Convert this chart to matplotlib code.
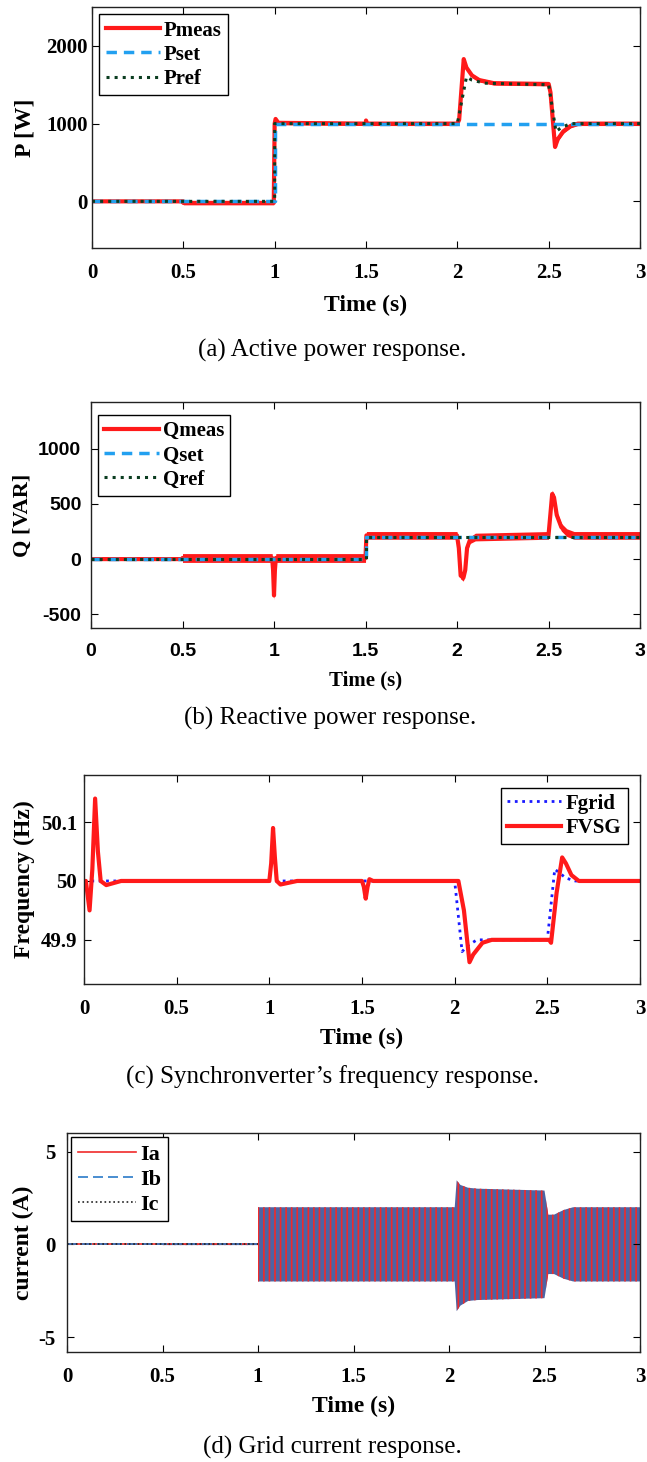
import numpy as np
import matplotlib.pyplot as plt

plt.rcParams['font.family'] = ['Liberation Serif', 'DejaVu Serif']
plt.rcParams['font.weight'] = 'bold'
plt.rcParams['axes.unicode_minus'] = False
plt.rcParams['hatch.linewidth'] = 1.2

W, H = 647, 1462

# (a) active power
t_pmeas = [0, 0.5, 0.5, 0.995, 1.0, 1.005, 1.02, 1.5, 1.5, 1.505, 2.0, 2.01, 2.035,
           2.05, 2.08, 2.12, 2.2, 2.5, 2.51, 2.535, 2.55, 2.58, 2.62, 2.66, 3.0]
pmeas = [0, 0, -20, -20, 1000, 1060, 1010, 1000, 1040, 1000, 1000, 1050, 1830,
         1720, 1620, 1560, 1520, 1510, 1400, 700, 800, 900, 970, 1000, 1000]
pmeas_ripple = [0, 0, 25, 25, 25, 25, 25, 25, 25, 25, 25, 25, 25,
                25, 25, 25, 25, 25, 25, 25, 25, 25, 25, 25, 25]
t_pset = [0, 1.0, 1.0, 3.0]
pset = [0, 0, 1000, 1000]
t_pref = [0, 1.0, 1.0, 2.0, 2.05, 2.08, 2.15, 2.5, 2.54, 2.57, 2.62, 3.0]
pref = [0, 0, 1000, 1000, 1600, 1560, 1520, 1500, 900, 950, 1000, 1000]

# (b) reactive power
t_qmeas = [0, 0.5, 0.5, 0.99, 0.995, 1.0, 1.005, 1.01, 1.5, 1.505, 2.0, 2.01, 2.02,
           2.035, 2.045, 2.055, 2.07, 2.1, 2.5, 2.51, 2.52, 2.53, 2.545, 2.57, 2.6, 2.64, 3.0]
qmeas = [0, 0, 10, 10, -100, -330, -100, 10, 10, 215, 215, 100, -150,
         -170, -100, 100, 170, 200, 215, 400, 590, 560, 400, 290, 240, 215, 215]
qmeas_ripple = [0, 0, 40, 40, 40, 40, 40, 40, 40, 35, 35, 30, 30,
                30, 30, 30, 30, 35, 35, 35, 35, 35, 35, 35, 35, 35, 35]
t_qset = [0, 1.5, 1.5, 3.0]
qset = [0, 0, 200, 200]
t_qref = [0, 1.5, 1.5, 3.0]
qref = [0, 0, 200, 200]

# (c) frequency
t_fvsg = [0, 0.01, 0.03, 0.045, 0.06, 0.075, 0.09, 0.12, 0.2, 1.0, 1.01, 1.02, 1.03,
          1.04, 1.06, 1.15, 1.5, 1.51, 1.52, 1.53, 1.54, 1.56, 2.02, 2.05, 2.08,
          2.1, 2.15, 2.2, 2.51, 2.52, 2.55, 2.58, 2.6, 2.63, 2.67, 3.0]
fvsg = [50, 50.0, 49.95, 50.02, 50.14, 50.05, 50.0, 49.993, 50.0, 50.0, 50.03, 50.09, 50.04,
        50.0, 49.994, 50.0, 50.0, 49.99, 49.97, 49.99, 50.003, 50.0, 50.0, 49.95, 49.862,
        49.875, 49.895, 49.9, 49.9, 49.895, 49.98, 50.04, 50.03, 50.01, 50.0, 50.0]
t_fgrid = [0, 2.0, 2.04, 2.07, 2.12, 2.5, 2.54, 2.6, 2.65, 3.0]
fgrid = [50, 50, 49.88, 49.89, 49.9, 49.9, 50.02, 50.005, 50, 50]

# (d) grid current envelope
t_ienv = [0, 0.5, 0.5, 1.0, 1.0, 2.03, 2.04, 2.06, 2.1, 2.15, 2.5, 2.52, 2.55, 2.6, 2.65, 3.0]
i_upper = [0, 0, 0.04, 0.04, 2.0, 2.0, 3.45, 3.2, 3.05, 3.0, 2.9, 1.6, 1.6, 1.85, 2.0, 2.0]
i_lower = [0, 0, -0.04, -0.04, -2.0, -2.0, -3.6, -3.3, -3.05, -3.0, -2.9, -1.6, -1.6, -1.85, -2.0, -2.0]
t_iquiet = [0, 1.0]
i_quiet = [0, 0]

xticks = [0, 0.5, 1, 1.5, 2, 2.5, 3]
xlabels = ['0', '0.5', '1', '1.5', '2', '2.5', '3']


def box(l, t, r, b):
    return [l / W, 1 - b / H, (r - l) / W, (b - t) / H]


def style(ax, fam='Liberation Serif', size=15, ypad=5):
    ax.tick_params(direction='in', top=True, right=True, length=5, width=0.8,
                   labelsize=size)
    ax.tick_params(axis='x', pad=11)
    ax.tick_params(axis='y', pad=ypad)
    for lb in ax.get_xticklabels() + ax.get_yticklabels():
        lb.set_fontfamily(fam)
        lb.set_fontweight('bold')
    for s in ax.spines.values():
        s.set_linewidth(1.0)
        s.set_color('#222222')
    ax.set_xlim(0, 3)


leg_kw = dict(fancybox=False, edgecolor='black', framealpha=1, borderpad=0.3,
              handletextpad=0.2, labelspacing=0.2, handlelength=2.6)

fig = plt.figure(figsize=(W / 100, H / 100), dpi=100)

# ---- (a)
ax = fig.add_axes(box(92, 7, 640, 248))
lo = np.array(pmeas) - np.array(pmeas_ripple)
hi = np.array(pmeas) + np.array(pmeas_ripple)
ax.fill_between(t_pmeas, lo, hi, color='#ff1a1a', lw=0)
ax.plot(t_pmeas, pmeas, color='#ff1a1a', lw=3, label='Pmeas')
ax.plot(t_pset, pset, color='#22a0f0', lw=2.5, ls=(0, (3, 2)), label='Pset')
ax.plot(t_pref, pref, color='#0b3d20', lw=2.2, ls=':', label='Pref')
ax.set_ylim(-600, 2500)
ax.set_xticks(xticks, xlabels)
ax.set_yticks([0, 1000, 2000])
style(ax, ypad=3)
ax.set_xlabel('Time (s)', fontsize=17, fontweight='bold', labelpad=8)
ax.set_ylabel('P [W]', fontsize=17, fontweight='bold', labelpad=8)
ax.legend(loc='upper left', borderaxespad=0.35,
          prop={'family': 'Liberation Serif', 'weight': 'bold', 'size': 15}, **leg_kw)
fig.text(332 / W, 1 - 350 / H, '(a) Active power response.', ha='center', va='center',
         fontsize=18, fontweight='normal')

# ---- (b)
ax = fig.add_axes(box(91, 402, 640, 628))
lo = np.array(qmeas) - np.array(qmeas_ripple)
hi = np.array(qmeas) + np.array(qmeas_ripple)
ax.fill_between(t_qmeas, lo, hi, color='#ff1a1a', lw=0)
ax.plot(t_qmeas, qmeas, color='#ff1a1a', lw=3, label='Qmeas')
ax.plot(t_qset, qset, color='#22a0f0', lw=2.5, ls=(0, (3, 2)), label='Qset')
ax.plot(t_qref, qref, color='#0b3d20', lw=2.2, ls=':', label='Qref')
ax.set_ylim(-625, 1425)
ax.set_xticks(xticks, xlabels)
ax.set_yticks([-500, 0, 500, 1000])
style(ax, fam='Liberation Sans', size=14, ypad=7)
ax.set_xlabel('Time (s)', fontsize=15, fontweight='bold', labelpad=7)
ax.set_ylabel('Q [VAR]', fontsize=16, fontweight='bold', labelpad=4)
ax.legend(loc='upper left', borderaxespad=0, bbox_to_anchor=(0.013, 0.942),
          prop={'family': 'Liberation Serif', 'weight': 'bold', 'size': 15}, **leg_kw)
fig.text(330 / W, 1 - 718 / H, '(b) Reactive power response.', ha='center', va='center',
         fontsize=18, fontweight='normal')

# ---- (c)
ax = fig.add_axes(box(84, 775, 640, 984))
ax.plot(t_fgrid, fgrid, color='#1a1aff', lw=2, ls=':', label='Fgrid')
ax.plot(t_fvsg, fvsg, color='#ff1a1a', lw=3, label='FVSG')
ax.set_ylim(49.825, 50.18)
ax.set_xticks(xticks, xlabels)
ax.set_yticks([49.9, 50, 50.1], ['49.9', '50', '50.1'])
style(ax, ypad=5)
ax.set_xlabel('Time (s)', fontsize=17, fontweight='bold', labelpad=6)
ax.set_ylabel('Frequency (Hz)', fontsize=17, fontweight='bold', labelpad=4)
ax.legend(loc='upper right', borderaxespad=0.6,
          prop={'family': 'Liberation Serif', 'weight': 'bold', 'size': 15}, **leg_kw)
fig.text(332 / W, 1 - 1077 / H, "(c) Synchronverter’s frequency response.", ha='center',
         va='center', fontsize=18, fontweight='normal')

# ---- (d)
ax = fig.add_axes(box(67, 1133, 640, 1352))
ax.fill_between(t_ienv, i_lower, i_upper, facecolor='#4d64a4', edgecolor='#f02a2a',
                hatch='|||', lw=0)
ax.plot(t_iquiet, i_quiet, color='#f02a2a', lw=1.2, label='Ia')
ax.plot(t_iquiet, i_quiet, color='#2a7ac8', lw=1.2, ls=(0, (6, 3)), label='Ib')
ax.plot(t_iquiet, i_quiet, color='#222222', lw=1.2, ls=':', label='Ic')
ax.set_ylim(-5.8, 6.0)
ax.set_xticks(xticks, xlabels)
ax.set_yticks([-5, 0, 5])
style(ax, ypad=8)
ax.set_xlabel('Time (s)', fontsize=17, fontweight='bold', labelpad=6)
ax.set_ylabel('current (A)', fontsize=17, fontweight='bold', labelpad=3)
ax.legend(loc='upper left', borderaxespad=0.2,
          prop={'family': 'Liberation Serif', 'weight': 'bold', 'size': 16}, **leg_kw)
fig.text(332 / W, 1 - 1447 / H, '(d) Grid current response.', ha='center', va='center',
         fontsize=18, fontweight='normal')

fig.savefig('out.png', dpi=100)
